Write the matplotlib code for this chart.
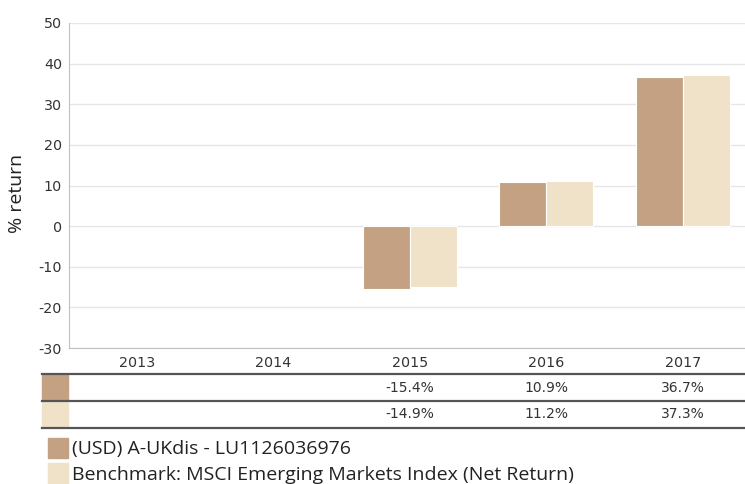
import matplotlib.pyplot as plt
import matplotlib.transforms as mtransforms
from matplotlib.patches import Rectangle
import numpy as np

plt.rcParams["axes.unicode_minus"] = False

years = ["2013", "2014", "2015", "2016", "2017"]
fund = [np.nan, np.nan, -15.4, 10.9, 36.7]
benchmark = [np.nan, np.nan, -14.9, 11.2, 37.3]
fund_name = "(USD) A-UKdis - LU1126036976"
bench_name = "Benchmark: MSCI Emerging Markets Index (Net Return)"

FUND_COLOR = "#c4a182"
BENCH_COLOR = "#efe2c8"

W, H = 745, 484
fig = plt.figure(figsize=(W / 100, H / 100), dpi=100)
ax = fig.add_axes([69 / W, (H - 348) / H, (751 - 69) / W, (348 - 23) / H])

x = np.arange(len(years))
bw = 0.345
ax.bar(x - bw / 2, fund, width=bw, color=FUND_COLOR, edgecolor="white", linewidth=0.8, zorder=3)
ax.bar(x + bw / 2, benchmark, width=bw, color=BENCH_COLOR, edgecolor="white", linewidth=0.8, zorder=3)

ax.set_xlim(-0.5, len(years) - 0.5)
ax.set_ylim(-30, 50)
ax.set_yticks(range(-30, 51, 10))
ax.yaxis.grid(True, color="#e6e6e6", linewidth=1, zorder=0)
ax.set_xticks(x)
ax.set_xticklabels(years)
for s in ["top", "right"]:
    ax.spines[s].set_visible(False)
for s in ["left", "bottom"]:
    ax.spines[s].set_color("#c0c0c0")
ax.tick_params(axis="both", length=0, labelsize=10.3, colors="#333333",
               labelfontfamily="DejaVu Sans")
ax.tick_params(axis="x", pad=6)
ax.tick_params(axis="y", pad=5)
ax.set_ylabel("% return", fontsize=14, color="#222222", family="Open Sans")
ax.yaxis.set_label_coords(-(69 - 17) / (751 - 69), (348 - 193) / (348 - 23))
ax.yaxis.label.set_va("center")

# table under the chart
tx = mtransforms.blended_transform_factory(ax.transData, fig.transFigure)
for yy in [374, 401, 428]:
    fig.add_artist(plt.Line2D([42 / W, 1], [1 - yy / H] * 2, color="#555555", linewidth=1.6))
rows = [(fund, FUND_COLOR, 375, 400), (benchmark, BENCH_COLOR, 402, 427)]
for vals, col, y0, y1 in rows:
    fig.add_artist(Rectangle((42 / W, 1 - y1 / H), 26 / W, (y1 - y0) / H,
                             transform=fig.transFigure, color=col))
    for i, v in enumerate(vals):
        if not np.isnan(v):
            fig.text(i, 1 - ((y0 + y1) / 2) / H, f"{v:.1f}%", transform=tx,
                     ha="center", va="center", fontsize=10, color="#333333",
                     family="DejaVu Sans")

# legend
for label, col, y0, y1 in [(fund_name, FUND_COLOR, 438, 458), (bench_name, BENCH_COLOR, 463, 484)]:
    fig.add_artist(Rectangle((48 / W, 1 - y1 / H), 20 / W, (y1 - y0) / H,
                             transform=fig.transFigure, color=col))
    fig.text(72 / W, 1 - ((y0 + y1) / 2 + 1) / H, label, ha="left", va="center",
             fontsize=14, color="#222222", family="Open Sans")

fig.savefig("out.png", dpi=100)
